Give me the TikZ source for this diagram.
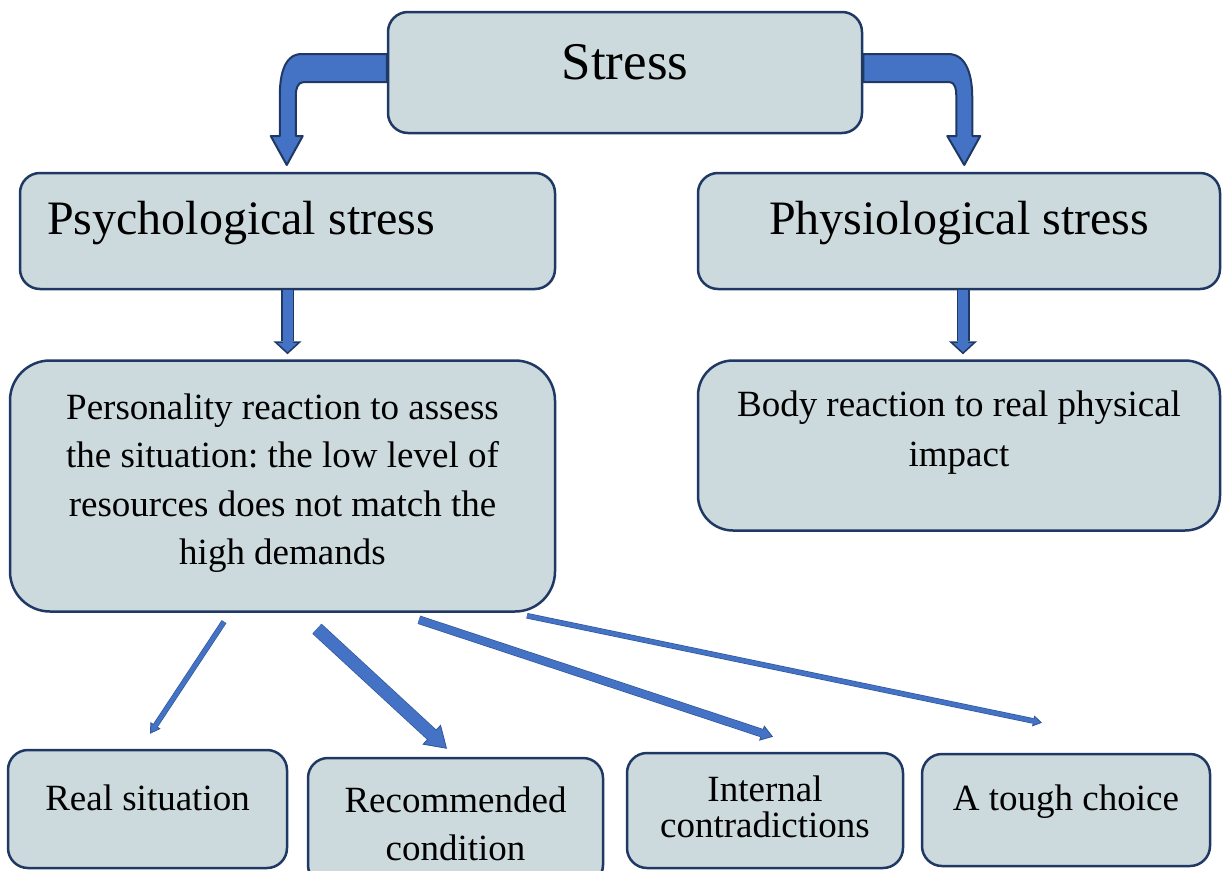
\documentclass[tikz,border=0pt]{standalone}
\usepackage{fontspec}
\setmainfont{Liberation Serif}
\usepackage{xcolor}
\usetikzlibrary{arrows.meta, positioning}

\definecolor{boxfill}{RGB}{204,218,222}
\definecolor{boxline}{RGB}{31,56,100}
\definecolor{arrowfill}{RGB}{68,114,196}
\definecolor{arrowline}{RGB}{47,85,151}
\frenchspacing

\begin{document}
\begin{tikzpicture}[
    x=1pt, y=-1pt,
    card/.style={draw=boxline, fill=boxfill, line width=2.5pt, rounded corners=20pt, align=flush center, inner xsep=10pt, inner ysep=0pt},
    topbox/.style={card, font=\fontsize{53}{60}\selectfont},
    midbox/.style={card, font=\fontsize{48}{56}\selectfont},
    textbox/.style={card, font=\fontsize{37}{48.5}\selectfont},
    bent/.style={draw=boxline, fill=arrowfill, line width=2pt, line join=round},
    down/.style={draw=arrowfill, line width=10pt, -{Triangle[width=28pt, length=13pt, line width=1.5pt, color=boxline, fill=arrowfill]},
        preaction={draw=boxline, arrows=-, line width=13pt, shorten >=13pt},
        postaction={draw=arrowfill, arrows=-, line width=10pt, shorten >=11pt}},
    slant/.style n args={3}{draw=arrowfill, line width=#1, -{Triangle[width=#2, length=#3, line width=0.8pt, color=arrowline, fill=arrowfill]},
        preaction={draw=arrowline, arrows=-, line width={#1+1.6pt}, shorten >=#3},
        postaction={draw=arrowfill, arrows=-, line width=#1, shorten >={#3-2pt}}}
]
    \useasboundingbox (0,0) rectangle (1222,870);

    \node[topbox, text width=454pt, minimum height=121pt, text depth=21pt] (stress) at (625,72.5) {Stress};
    \node[midbox, align=flush left, inner xsep=27pt, text width=481pt, minimum height=116pt, text depth=26.5pt] (psych) at (287.5,231) {Psychological stress};
    \node[midbox, text width=502pt, minimum height=116pt, text depth=26.5pt] (phys) at (959,231) {Physiological stress};
    \node[textbox, rounded corners=40pt, text width=525pt, minimum height=251pt, text depth=159.5pt, below=69pt of psych, xshift=-5pt] (pers)
        {Personality reaction to assess\\the situation: the low level of\\resources does not match the\\high demands};
    \node[textbox, rounded corners=35pt, text width=502pt, minimum height=170pt, text depth=83pt, font=\fontsize{37}{50}\selectfont, below=69pt of phys] (body)
        {Body reaction to real physical\\impact};

    \node[textbox, text width=259pt, minimum height=118pt, text depth=23pt] (real) at (147.5,809) {Real situation};
    \node[textbox, text width=275pt, minimum height=127pt, text depth=44.5pt] (rec) at (455.5,821.5) {Recommended\\condition};
    \node[textbox, text width=256pt, minimum height=115pt, text depth=43pt, font=\fontsize{37}{36}\selectfont] (intc) at (765,810.5) {Internal\\contradictions};
    \node[textbox, text width=268pt, minimum height=112pt, text depth=24pt] (tough) at (1066,810) {A tough choice};

    % bent arrows from the top box
    \draw[bent] (stress.west) ++(0,-18.5) -- ++(-85,0) to[out=180, in=90] ++(-22,43)
        -- ++(0,39) -- ++(-9,0) -- ++(16,29) -- ++(16,-29) -- ++(-7,0) -- ++(0,-41)
        to[out=90, in=180] ++(8,-13) -- ++(83,0) -- cycle;
    \draw[bent] (stress.east) ++(0,-18.5) -- ++(85,0) to[out=0, in=90] ++(24,43)
        -- ++(0,39) -- ++(8,0) -- ++(-16,29) -- ++(-17,-29) -- ++(9,0) -- ++(0,-41)
        to[out=90, in=0] ++(-7,-13) -- ++(-86,0) -- cycle;

    \draw[down] (psych.south) -- ++(0,64);
    \draw[down] ([xshift=4pt]phys.south) -- ++(0,64);

    \draw[slant={4pt}{12pt}{10pt}] ([xshift=-58.5pt, yshift=-9pt]pers.south) -- ([xshift=2.5pt, yshift=15pt]real.north);
    \draw[slant={12pt}{27pt}{21pt}] ([xshift=34.5pt, yshift=-16pt]pers.south) -- ([xshift=-8.5pt, yshift=8pt]rec.north);
    \draw[slant={7pt}{16pt}{12pt}] ([xshift=136.5pt, yshift=-7pt]pers.south) -- ([xshift=8pt, yshift=15pt]intc.north);
    \draw[slant={4pt}{11pt}{9pt}] ([xshift=244.5pt, yshift=-3pt]pers.south) -- ([xshift=-24pt, yshift=30pt]tough.north);
\end{tikzpicture}
\end{document}
